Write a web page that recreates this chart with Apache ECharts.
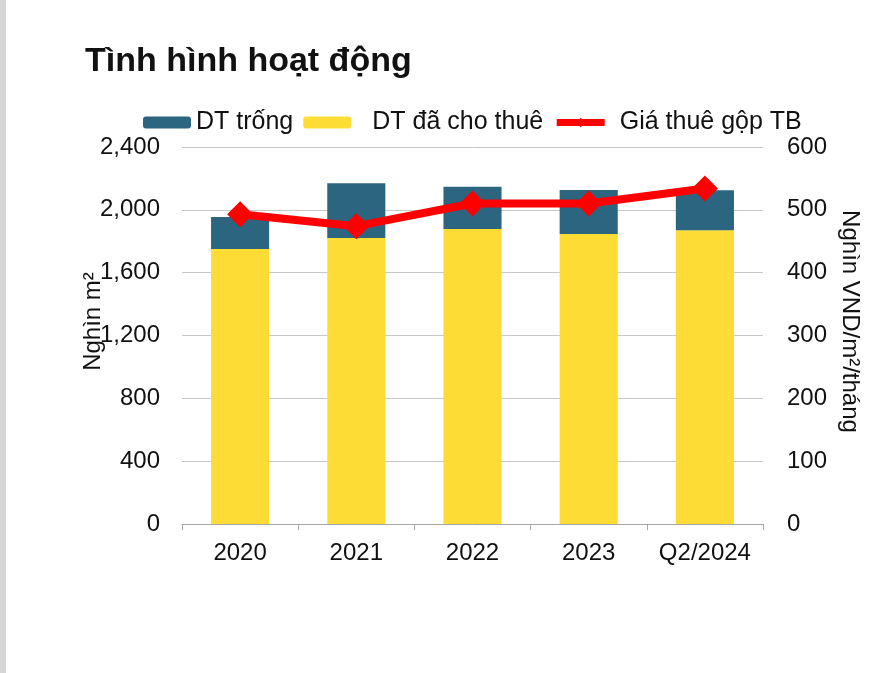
<!DOCTYPE html>
<html><head><meta charset="utf-8">
<script src="https://cdn.jsdelivr.net/npm/echarts@6/dist/echarts.min.js"></script>
<style>html,body{margin:0;padding:0;background:#fff}#c{width:885px;height:673px}</style>
</head><body><div id="c"></div>
<script>
const categories = ['2020', '2021', '2022', '2023', 'Q2/2024'];
const leased = [1750, 1820, 1878, 1846, 1870];
const vacant = [205, 350, 269, 280, 254];
const avgRent = [493, 474, 510, 510, 534];
const leftTicks = [0, 400, 800, 1200, 1600, 2000, 2400];
const rightTicks = [0, 100, 200, 300, 400, 500, 600];

const font = 'Liberation Sans, Arial, sans-serif';
const txt = '#111';
const chart = echarts.init(document.getElementById('c'));
chart.setOption({
  backgroundColor: '#fff',
  animation: false,
  title: {
    text: 'Tình hình hoạt động',
    left: 80, top: 40,
    textStyle: {fontFamily: font, fontSize: 34, fontWeight: 'bold', color: txt}
  },
  graphic: [{type: 'rect', shape: {x: 0, y: 0, width: 6, height: 673}, style: {fill: '#d6d6d6'}}],
  legend: {
    left: 143, top: 110, padding: 0,
    itemWidth: 48, itemHeight: 12, itemGap: 10,
    textStyle: {fontFamily: font, fontSize: 25, color: txt},
    data: [
      {name: 'DT trống'},
      {name: 'DT đã cho thuê', textStyle: {padding: [0, 3, 0, 16]}},
      {name: 'Giá thuê gộp TB', textStyle: {padding: [0, 0, 0, 10]}, lineStyle: {width: 7, color: '#ff0000'}, itemStyle: {color: '#ff0000'}}
    ]
  },
  grid: {left: 182, right: 122, top: 147, bottom: 149},
  xAxis: {
    type: 'category', data: categories,
    axisLine: {lineStyle: {color: '#a6a6a6', width: 1}},
    axisTick: {show: true, length: 6, interval: 0, lineStyle: {color: '#a6a6a6'}},
    axisLabel: {fontFamily: font, fontSize: 24, color: txt, margin: 17, interval: 0}
  },
  yAxis: [{
    type: 'value', min: leftTicks[0], max: leftTicks[leftTicks.length - 1], interval: 400,
    name: 'Nghìn m²', nameLocation: 'middle', nameGap: 77, nameRotate: 90, nameMoveOverlap: false,
    nameTextStyle: {fontFamily: font, fontSize: 24, color: txt, padding: [0, 0, 0, 28]},
    axisLine: {show: false}, axisTick: {show: false},
    axisLabel: {fontFamily: font, fontSize: 24, color: txt, margin: 22,
      formatter: v => v.toLocaleString('en-US')},
    splitLine: {lineStyle: {color: '#c8c8c8', width: 1}}
  }, {
    type: 'value', min: rightTicks[0], max: rightTicks[rightTicks.length - 1], interval: 100,
    name: 'Nghìn VND/m²/tháng', nameLocation: 'middle', nameGap: 72, nameRotate: -90,
    nameTextStyle: {fontFamily: font, fontSize: 24, color: txt, padding: [0, 28, 0, 0]},
    axisLine: {show: false}, axisTick: {show: false},
    axisLabel: {fontFamily: font, fontSize: 24, color: txt, margin: 24},
    splitLine: {show: false}
  }],
  series: [{
    name: 'DT đã cho thuê', type: 'bar', stack: 'a', data: leased,
    barWidth: '50%', itemStyle: {color: '#fddd35'}, z: 2
  }, {
    name: 'DT trống', type: 'bar', stack: 'a', data: vacant,
    barWidth: '50%', itemStyle: {color: '#2b6580'}, z: 2
  }, {
    name: 'Giá thuê gộp TB', type: 'line', yAxisIndex: 1, data: avgRent,
    lineStyle: {color: '#ff0000', width: 8}, itemStyle: {color: '#ff0000'},
    symbol: 'diamond', symbolSize: 26, z: 5
  }]
});
</script></body></html>
